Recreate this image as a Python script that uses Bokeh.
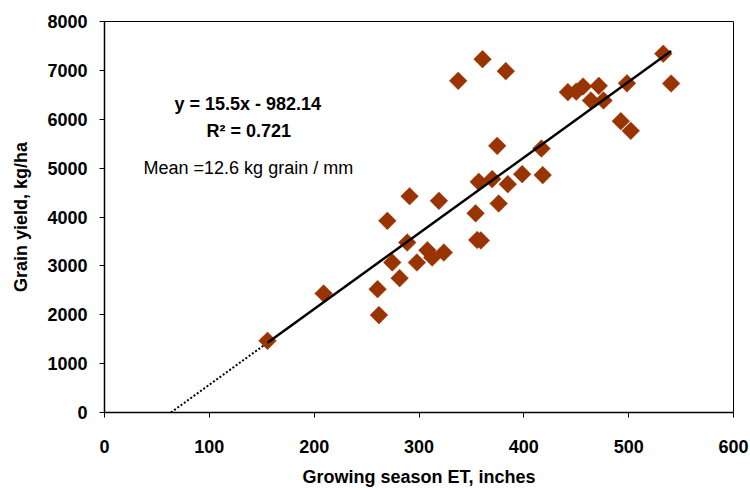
from bokeh.plotting import figure
from bokeh.models import Range1d, FixedTicker, Label
from bokeh.embed import file_html
from bokeh.resources import INLINE
import numpy as np

# Growing season ET (x) and grain yield (y)
et = [155.5, 209, 261.8, 260.5, 281.5, 274.5, 269.8, 288.8, 291, 319,
      298, 308, 312.6, 323.7, 354, 357, 369.8, 376, 384.7, 398.4,
      374.6, 337.4, 360.6, 382.8, 416.8, 418, 355.5, 359, 442, 450,
      456.5, 471.5, 464, 476, 498.4, 492.5, 502, 533, 540.5]
yld = [1467, 2435, 1993, 2524, 2749, 3069, 3922, 3478, 4425, 4331,
       3069, 3320, 3171, 3273, 4075, 4720, 4775, 4276, 4672, 4877,
       5456, 6786, 7230, 6984, 5401, 4857, 3530, 3520, 6554, 6565,
       6670, 6684, 6384, 6384, 6735, 5960, 5763, 7340, 6731]

slope = 15.5
intercept = -982.14
x_ticks = [0, 100, 200, 300, 400, 500, 600]
y_ticks = [0, 1000, 2000, 3000, 4000, 5000, 6000, 7000, 8000]

FONT = "Liberation Sans"

p = figure(width=750, height=490, output_backend="svg", toolbar_location=None,
           x_range=Range1d(0, 600), y_range=Range1d(0, 8000),
           min_border_left=104, min_border_right=17, min_border_top=21, min_border_bottom=78)
p.background_fill_color = "white"
p.border_fill_color = "white"
p.outline_line_color = "black"
p.outline_line_width = 1
p.xgrid.visible = False
p.ygrid.visible = False

for ax in (p.xaxis[0], p.yaxis[0]):
    ax.axis_line_color = "black"
    ax.axis_line_width = 1.5
    ax.major_tick_line_color = "black"
    ax.major_tick_line_width = 1
    ax.major_tick_out = 5
    ax.major_tick_in = 0
    ax.minor_tick_line_color = None
    ax.major_label_text_font = FONT
    ax.major_label_text_font_style = "bold"
    ax.major_label_text_font_size = "18px"
    ax.major_label_text_color = "black"
    ax.axis_label_text_font = FONT
    ax.axis_label_text_font_style = "bold"
    ax.axis_label_text_font_size = "18px"
    ax.axis_label_text_color = "black"

p.xaxis[0].ticker = FixedTicker(ticks=x_ticks)
p.yaxis[0].ticker = FixedTicker(ticks=y_ticks)
p.xaxis[0].axis_label = "Growing season ET, inches"
p.yaxis[0].axis_label = "Grain yield, kg/ha"
p.xaxis[0].major_label_standoff = 22
p.xaxis[0].axis_label_standoff = 11
p.yaxis[0].major_label_standoff = 12
p.yaxis[0].axis_label_standoff = 13

# regression line: solid over data range, dotted extension to y = 0
x0 = -intercept / slope
x_lo, x_hi = min(et), max(et)
p.line([x0, x_lo], [slope * x0 + intercept, slope * x_lo + intercept],
       line_color="black", line_width=2, line_dash="2 2")

p.scatter(et, yld, marker="square", angle=np.pi / 4, size=12.5,
          fill_color="#993300", line_color="#993300", line_width=0.5)

p.line([x_lo, x_hi], [slope * x_lo + intercept, slope * x_hi + intercept],
       line_color="black", line_width=2.5)

p.add_layout(Label(x=136.7, y=6316, text="y = 15.5x - 982.14", text_font=FONT,
                   text_font_style="bold", text_font_size="18px",
                   text_align="center", text_baseline="middle", text_color="black"))
p.add_layout(Label(x=137.6, y=5763, text="R\u00b2 = 0.721", text_font=FONT,
                   text_font_style="bold", text_font_size="18px",
                   text_align="center", text_baseline="middle", text_color="black"))
p.add_layout(Label(x=139.6, y=5006, text="Mean =12.6 kg grain  / mm", text_font=FONT,
                   text_font_size="18px",
                   text_align="center", text_baseline="middle", text_color="black"))

open("out.html", "w").write(file_html(p, INLINE))
